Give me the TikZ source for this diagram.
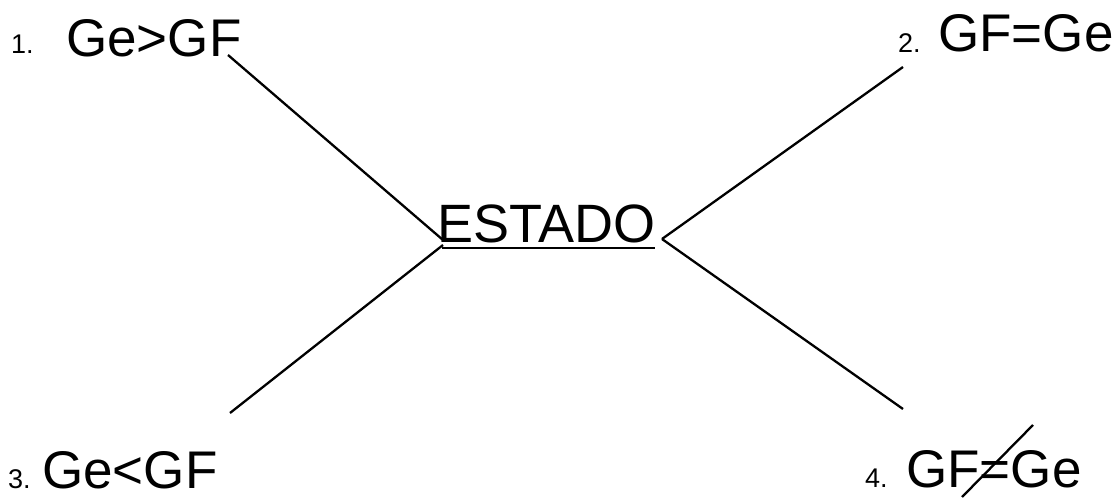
\documentclass[tikz,border=0pt]{standalone}
\usepackage{fontspec}
\setmainfont{Liberation Sans}
\begin{document}
\begin{tikzpicture}[x=1pt,y=-1pt,
  big/.style={inner sep=0pt,anchor=base west,font=\fontsize{53}{53}\selectfont},
  num/.style={inner sep=0pt,anchor=base west,font=\fontsize{27}{27}\selectfont},
  conn/.style={line width=2.3pt,black}]
\useasboundingbox (0,0) rectangle (1119,498);
% labels
\node[num] (n1) at (11,53) {1.};
\node[big] (l1) at (66,56) {Ge>GF};
\node[num] (n2) at (898,52) {2.};
\node[big] (l2) at (938,51) {GF=Ge};
\node[num] (n3) at (8,488) {3.};
\node[big] (l3) at (42,488) {Ge<GF};
\node[num] (n4) at (865,487) {4.};
\node[big] (l4) at (906,487) {GF=Ge};
\node[inner sep=0pt,anchor=base west,font=\fontsize{54}{54}\selectfont] (st) at (437,242) {ESTADO};
% connector end points
\coordinate (e1) at (228,55);
\coordinate (e2) at (903,67);
\coordinate (e3) at (230,413);
\coordinate (e4) at (903,409);
\coordinate (cl1) at (443,240);
\coordinate (cl3) at (443,245);
\coordinate (cr) at (662,239);
\draw[conn] (e1) -- (cl1);
\draw[conn] (cl3) -- (e3);
\draw[conn] (cr) -- (e2);
\draw[conn] (cr) -- (e4);
% underline of ESTADO
\draw[line width=2.6pt] (442,248) -- (655,248);
% slash through = in label 4
\draw[conn] (962,497) -- (1033,425);
\end{tikzpicture}
\end{document}
